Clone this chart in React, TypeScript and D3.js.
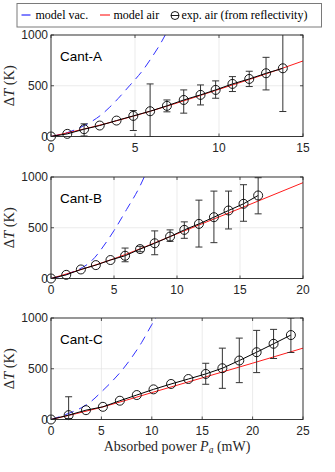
import React from 'react';
import * as d3 from 'd3';

// Cant-A
const powerA = [0, 0.97, 1.97, 2.9, 3.9, 4.9, 5.9, 6.9, 7.9, 8.9, 9.8, 10.8, 11.8, 12.8, 13.8];
const tempA = [0, 26, 72, 108, 157, 203, 249, 302, 360, 410, 459, 518, 567, 623, 672];
const lowA = [0, 26, 5, 108, 157, 59, 0, 243, 230, 311, 377, 443, 492, 459, 246];
const highA = [0, 26, 125, 108, 157, 256, 518, 360, 459, 508, 548, 590, 643, 780, 1010];
const vacPA = [0, 1, 2, 3, 3.5, 4, 4.7, 5, 5.5, 6, 6.5, 6.8];
const vacTA = [0, 40, 110, 215, 290, 375, 505, 560, 660, 780, 910, 1000];
const airPA = [0, 2.5, 5, 7.5, 10, 12.5, 15];
const airTA = [0, 95, 205, 330, 465, 600, 744];

// Cant-B
const powerB = [0, 1.21, 2.37, 3.56, 4.72, 5.88, 7.07, 8.23, 9.45, 10.58, 11.74, 12.93, 14.09, 15.28, 16.44];
const tempB = [0, 36, 89, 132, 182, 224, 290, 347, 413, 479, 538, 604, 670, 736, 818];
const lowB = [0, 36, 89, 132, 182, 165, 264, 234, 366, 396, 310, 353, 488, 564, 637];
const highB = [0, 36, 89, 132, 182, 300, 317, 469, 479, 558, 772, 861, 861, 924, 993];
const vacPB = [0, 1, 2, 2.5, 3, 3.7, 4, 5, 6, 7, 7.4];
const vacTB = [0, 30, 80, 109, 150, 240, 290, 472, 680, 895, 1000];
const airPB = [0, 5, 10, 15, 20];
const airTB = [0, 195, 440, 690, 944];

// Cant-C
const powerC = [0, 1.75, 3.47, 5.15, 6.83, 8.51, 10.17, 11.91, 13.63, 15.35, 17.0, 18.68, 20.4, 22.08, 23.8];
const tempC = [0, 43, 92, 125, 185, 241, 297, 350, 399, 449, 505, 581, 663, 746, 832];
const lowC = [0, 10, 92, 125, 185, 241, 297, 350, 399, 347, 307, 363, 462, 601, 660];
const highC = [0, 224, 92, 125, 185, 241, 297, 350, 399, 554, 703, 802, 878, 888, 1000];
const vacPC = [0, 2, 3, 4, 5, 6, 7, 8, 9, 10, 10.4];
const vacTC = [0, 70, 115, 180, 272, 370, 480, 610, 760, 935, 1000];
const airPC = [0, 5, 10, 15, 20, 25];
const airTC = [0, 120, 265, 410, 555, 703];

const yTicks = [0, 500, 1000];

const panels = [
  { name: 'Cant-A', xMax: 15, xTicks: [0, 5, 10, 15], top: 35, p: powerA, t: tempA, lo: lowA, hi: highA, vp: vacPA, vt: vacTA, ap: airPA, at: airTA },
  { name: 'Cant-B', xMax: 20, xTicks: [0, 5, 10, 15, 20], top: 177, p: powerB, t: tempB, lo: lowB, hi: highB, vp: vacPB, vt: vacTB, ap: airPB, at: airTB },
  { name: 'Cant-C', xMax: 25, xTicks: [0, 5, 10, 15, 20, 25], top: 318, p: powerC, t: tempC, lo: lowC, hi: highC, vp: vacPC, vt: vacTC, ap: airPC, at: airTC },
];

const left = 51;
const right = 303;
const plotH = 101.5;
const sans = "'Liberation Sans', Arial, sans-serif";
const serif = "'Liberation Serif', 'Times New Roman', serif";
const axisColor = '#262626';

function Panel({ cfg, idx }) {
  const x = d3.scaleLinear().domain([0, cfg.xMax]).range([left, right]);
  const y = d3.scaleLinear().domain([0, 1000]).range([cfg.top + plotH, cfg.top]);
  const line = d3.line().x((d) => x(d[0])).y((d) => y(d[1]));
  const smooth = d3.line().x((d) => x(d[0])).y((d) => y(d[1])).curve(d3.curveMonotoneX);
  const clipId = `clip${idx}`;
  const bottom = cfg.top + plotH;

  return (
    <g>
      <defs>
        <clipPath id={clipId}>
          <rect x={left} y={cfg.top} width={right - left} height={plotH} />
        </clipPath>
      </defs>
      {/* grid */}
      {cfg.xTicks.map((t) => (
        <line key={'gx' + t} x1={x(t)} x2={x(t)} y1={cfg.top} y2={bottom} stroke="#e3e3e3" strokeWidth={0.7} />
      ))}
      {yTicks.map((t) => (
        <line key={'gy' + t} x1={left} x2={right} y1={y(t)} y2={y(t)} stroke="#e3e3e3" strokeWidth={0.7} />
      ))}
      <g clipPath={`url(#${clipId})`}>
        <path d={smooth(cfg.vp.map((p, i) => [p, cfg.vt[i]]))} fill="none" stroke="#3030ff" strokeWidth={1} strokeDasharray="9,6" />
        <path d={smooth(cfg.ap.map((p, i) => [p, cfg.at[i]]))} fill="none" stroke="#ff0000" strokeWidth={0.9} />
        <path d={line(cfg.p.map((p, i) => [p, cfg.t[i]]))} fill="none" stroke="#000" strokeWidth={1} />
        {cfg.p.map((p, i) =>
          cfg.hi[i] - cfg.lo[i] > 1 ? (
            <g key={'e' + i} stroke="#333" strokeWidth={1}>
              <line x1={x(p)} x2={x(p)} y1={y(cfg.lo[i])} y2={y(cfg.hi[i])} />
              <line x1={x(p) - 3.5} x2={x(p) + 3.5} y1={y(cfg.lo[i])} y2={y(cfg.lo[i])} />
              <line x1={x(p) - 3.5} x2={x(p) + 3.5} y1={y(cfg.hi[i])} y2={y(cfg.hi[i])} />
            </g>
          ) : null
        )}
      </g>
      {cfg.p.map((p, i) => (
        <circle key={'c' + i} cx={x(p)} cy={y(cfg.t[i])} r={4.5} fill="none" stroke="#000" strokeWidth={0.9} />
      ))}
      {/* box */}
      <rect x={left} y={cfg.top} width={right - left} height={plotH} fill="none" stroke={axisColor} strokeWidth={0.9} />
      {cfg.xTicks.map((t) => (
        <g key={'tx' + t}>
          <line x1={x(t)} x2={x(t)} y1={bottom} y2={bottom - 3} stroke={axisColor} strokeWidth={0.8} />
          <line x1={x(t)} x2={x(t)} y1={cfg.top} y2={cfg.top + 3} stroke={axisColor} strokeWidth={0.8} />
          <text x={x(t)} y={bottom + 15} textAnchor="middle" fontFamily={sans} fontSize={12} fill={axisColor}>
            {t}
          </text>
        </g>
      ))}
      {yTicks.map((t) => (
        <g key={'ty' + t}>
          <line x1={left} x2={left + 3} y1={y(t)} y2={y(t)} stroke={axisColor} strokeWidth={0.8} />
          <line x1={right} x2={right - 3} y1={y(t)} y2={y(t)} stroke={axisColor} strokeWidth={0.8} />
          <text x={left - 3} y={y(t) + 4.3} textAnchor="end" fontFamily={sans} fontSize={12} fill={axisColor}>
            {t}
          </text>
        </g>
      ))}
      <text x={60} y={cfg.top + 26} fontFamily={sans} fontSize={13.5} fill="#000">
        {cfg.name}
      </text>
      <text
        transform={`translate(13.5, ${cfg.top + plotH / 2}) rotate(-90)`}
        textAnchor="middle"
        fontFamily={serif}
        fontSize={14.5}
        fill={axisColor}
      >
        Δ<tspan fontStyle="italic">T</tspan> (K)
      </text>
    </g>
  );
}

export default function App() {
  return (
    <svg width={335} height={472} style={{ position: 'absolute', left: 0, top: 0, background: '#fff' }}>
      <rect x={0} y={0} width={335} height={472} fill="#fff" />
      {/* legend */}
      <rect x={17} y={3.5} width={304.5} height={23.5} fill="#fff" stroke="#7a7a7a" strokeWidth={1} />
      <line x1={21.5} x2={30.5} y1={15} y2={15} stroke="#0000ff" strokeWidth={1} />
      <text x={35.5} y={19} fontFamily={serif} fontSize={12} fill="#000">model vac.</text>
      <line x1={100} x2={110} y1={15} y2={15} stroke="#ff0000" strokeWidth={1} />
      <text x={113.5} y={19} fontFamily={serif} fontSize={12} fill="#000">model air</text>
      <circle cx={175} cy={15.5} r={4} fill="none" stroke="#000" strokeWidth={0.9} />
      <line x1={171} x2={179} y1={15.5} y2={15.5} stroke="#000" strokeWidth={0.9} />
      <text x={181.5} y={19} fontFamily={serif} fontSize={12} fill="#000">exp. air (from reflectivity)</text>
      {panels.map((cfg, i) => (
        <Panel key={cfg.name} cfg={cfg} idx={i} />
      ))}
      <text x={177} y={451} textAnchor="middle" fontFamily={serif} fontSize={14} fill={axisColor}>
        Absorbed power <tspan fontStyle="italic">P</tspan>
        <tspan fontStyle="italic" fontSize={9.5} dy={2}>a</tspan>
        <tspan dy={-2}> (mW)</tspan>
      </text>
    </svg>
  );
}
